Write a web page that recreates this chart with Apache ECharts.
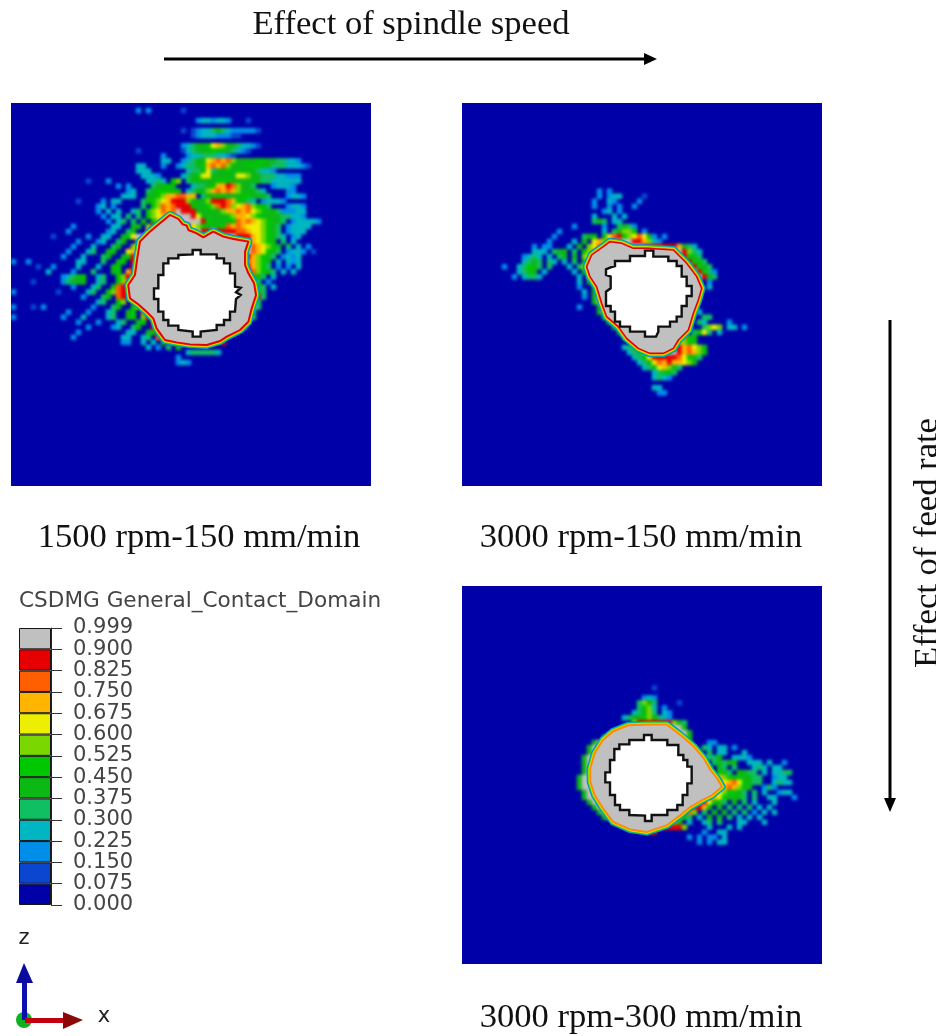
<!DOCTYPE html>
<html>
<head>
<meta charset="utf-8">
<script src="https://cdn.jsdelivr.net/npm/echarts@6/dist/echarts.min.js"></script>
<style>
html,body{margin:0;padding:0;background:#fff;width:936px;height:1036px;overflow:hidden}
#clip,#fields,#contact,#notes{position:absolute;left:0;top:0;width:936px;height:1036px}
#clip{clip-path:path('M11 103h360v383h-360z M462 103h360v383h-360z M462 586h360v378h-360z')}
#fields{filter:blur(1.6px)}
#contact{filter:blur(0.6px)}
</style>
</head>
<body>
<div id="clip"><div id="fields"></div></div>
<div id="contact"></div>
<div id="notes"></div>
<script>
// Contour levels, one per legend band, written as one character per cell ('.'=0 ... 'c'=12).
const legendTicks = ['0.000','0.075','0.150','0.225','0.300','0.375','0.450','0.525','0.600','0.675','0.750','0.825','0.900','0.999'];
const legendBands = [1,1,1,1,1,1,1,1,1,1,1,1,1];
const bandColors = ['#0000a8','#0a46cf','#008ee8','#00b6c2','#10bf62','#0cb814','#00c800','#7ad800','#eeee00','#ffb400','#ff5f00','#e60000','#c0c0c0'];
const panelLabels = ['1500 rpm-150 mm/min','3000 rpm-150 mm/min','3000 rpm-300 mm/min'];

const panel1FirstRow = 0;
const panel1Rows = [
"",
".........................2.2......1",
"",
".....................................2332332...1",
"",
"..................................1.12334543222221",
"....................................1233322211",
"",
"..................................2345568975543321",
".........................1........13455566554321",
"..............................2....2334443321",
"..............................33..2345589a9a75555665544332",
".........................33...2..2344569a9a75556665544433321",
".........................333.......344584556565554332",
"..........................3332....345688555558875544433222",
"...............1...2.......3343.67.45555566655555544333333",
".....................2.2....45565...3445699ba7554...23332",
".......................23..4566655.345579a9a9755543....22",
"......................333..556799aa99.45565555665554...2332",
".............1....2.33....456789bbb75557bbba96543.23332",
".................23.2.....4.67a9abbb65567aba789a7654...2332",
".................2.3.3..34.678a9acbbb55555799a9a87655422233",
"..................2.33.4.4.6789abcccb8555556799876555544332",
"...................2.34.4.5.678accccccb655556a9a9876554.233332",
"............2.......33..55.7bccccccb8765556a9a98887654.23333",
"...........2.......23..45..9ccc8ccccccbbcbbbbaa9887654.2333",
"........1......2..33..568ccc8ccccccccccccccccbbb9876543.23",
".............2...23..45..7cc8cccccccccccccccccca98765.4.3",
"............2...3...45..78c8cccccccccccccccccccca98765.4.3.2",
"...........2...34..56..89ccccccccccccccccccccccca98654.2332.1",
"..........2...3...45..56bcccccccccccccccccccccab97654.2323",
"2..2.........33...4..56.bcccccccccccccccccccccba9765.3.323",
".....1..2....3...3..56..bccccccccccccccccccccccb9764.2.2.3",
".......3....2...4...56.9bccccccccccccccccccccccba7654.3.3",
"..........23456..34..67bcccccccccccccccccccccccc654.3",
"....1.....24555..34..67acccccccccccccccccccccccc54.2",
"............2...34..6abbccccccccccccccccccccccccc54.3",
"2........1.....34..67abbccccccccccccccccccccccc8c54.",
"..............2...45.abbcccccccccccccccccccccccc8b4.",
".................34..67.bcccccccccccccccccccccccc4.",
"2...1.2.........2...45..67bcccccccccccccccccccccc4",
"...........2...2...34..56.abcccccccccccccccccccc4",
"2.........2...3....34..56.7bcccccccccccccccccccc4",
".............2...2...34..56.bcccccccccccccccccc",
"...............2....23..45..bcccccccccccccccccc",
".............2.........33..56bccccccccccccccc",
"............2.........33..34.abccccccccccc",
"......................22..3.3.5.7.cccccbbbb",
"...........................3.2.4.6",
"...................................3444443",
".................................2",
".................................232"
];

const panel2FirstRow = 17;
const panel2Rows = [
"...........................2.2",
"...........................2.233....1",
"..........................2..32....2",
"..........................2..2.2..2",
"............................23.2",
"..........................3...3.3",
"..........................454.33",
"......................2.....2..4542",
"...................2........3.45776.2",
"..................2.....456.58ab678a852.2",
".................2....3.5.897abcccbb9732",
"..............2.22...3.5.78abcccccccbbbbbbb9543",
"..............333.455.4.67abccccccccccccccccb743",
"............2343.3.45.5.78abb7bcccccccccccccb654",
"............3454.43.3.4.589abbbccccccccccccccb654",
"........2..34654.4...3.4789abbccccccccccccccccb654",
"...........3465.3.....3.6a89bbcccccccccccccccccb642",
"..........2.3443.......3.8abccccccccccccccccccccb54",
".......................3.5ccccccccccccccccccccc5.2",
".......................2..5cccccccccccccccccccc4.3",
"........................3.5cccccccccccccccccccc4",
"........................2.5ccccccccccccccccccc4",
"..........................5ccccccccccccccccccc4",
".......................2...5cccccccccccccccccc4",
"...........................5ccccccccccccccccc4.3",
"............................5cccccccccccccccc4..44",
".............................5ccccccccccccccc4.43....2",
"..............................5cccccccccccccc4..4787.33.2",
"...............................5cccccccccccc4.4684.3",
"................................5ccccccccccca65",
"..................................5cccccccb9765",
"................................34589abbccbb9a875",
".................................34679abbccb9a976",
"..................................3458bbbbba8654",
"...................................3458a9b99875",
"....................................34589754",
"......................................34654",
"......................................3432",
"",
"......................................33",
".......................................22"
];

const panel3FirstRow = 20;
const panel3Rows = [
"......................................1",
"",
"....................................232",
"...................................4754....1",
"...................................4673.2",
"..................................34574.32",
"................................3455675432",
"..................................7bbbbbbb754",
"................................5ccccccccccc5",
"...............................5ccccccccccccc5",
"............................5cccccccccccccccc5",
"..........................5cccccccccccccccccc5...22",
".........................5cccccccccccccccccccc5.43.33.2",
".........................5ccccccccccccccccccccc5.4.33...3",
"........................5cccccccccccccccccccccc54445..3332",
"........................5ccccccccccccccccccccccc5.45455..333.3..2",
"........................5cccccccccccccccccccccccc5.54.4...343.33",
"........................5cccccccccccccccccccccccc5.654.5544.3.3344",
".......................5cccccccccccccccccccccccccca976565544..233",
".......................5cccccccccccccccccccccccccccb89a86544..3433",
".......................5cccccccccccccccccccccccccccb9a9755..242",
"........................5cccccccccccccccccccccccccb876654.4.3..233",
"........................5ccccccccccccccccccccccccb9865554.4..33...2",
".........................5cccccccccccccccccccbbbb8654.5.4.3...3",
"..........................5cccccccccccccccccbbbb95.5.4.4.4.3.3",
"...........................5cccccccccccccccbba7.4.5.5.4.4.2.3.3",
"............................5cccccccccccccb964.3.5.5.4.3.3.3",
"..............................5ccccccccccb75.3..34.4...33...3",
".................................ccbbbbcbbbb7....3...3.3",
".....................................bb.........2..33",
".............................................2.2.22.3",
"...............................................2.2.33"
];

// Outlines of the contact region and of the hole in each panel, in each panel's own outline units.
const contact1 = [[510,360],[535,372],[548,388],[560,392],[565,405],[590,415],[610,427],[640,410],[670,425],[700,432],[745,440],[735,470],[735,510],[745,535],[762,565],[768,600],[755,640],[745,680],[720,705],[680,725],[660,738],[620,750],[570,748],[530,742],[495,735],[470,700],[460,670],[440,650],[415,628],[390,610],[385,570],[405,540],[412,490],[420,440],[450,410],[480,385]];
const contact2 = [[360,185],[395,190],[430,205],[470,205],[550,210],[590,250],[620,290],[635,325],[625,360],[610,400],[595,450],[565,480],[550,505],[520,520],[480,520],[445,505],[410,475],[385,440],[350,410],[335,370],[320,320],[300,290],[290,260],[305,225],[340,200]];
const contact3 = [[230,150],[290,150],[330,180],[370,215],[400,250],[420,285],[440,310],[455,335],[425,360],[395,375],[360,395],[330,420],[290,450],[230,470],[180,462],[130,440],[100,400],[75,360],[62,320],[62,280],[75,235],[100,195],[130,170],[175,152]];
const hole1 = [[578,465],[602,465],[602,478],[650,478],[650,490],[672,490],[672,505],[690,505],[690,535],[705,535],[705,575],[722,578],[708,592],[722,600],[708,612],[705,650],[690,650],[690,675],[672,675],[672,690],[650,690],[650,705],[602,710],[602,725],[578,725],[578,710],[535,705],[535,692],[505,692],[505,675],[490,675],[490,650],[475,650],[475,612],[462,612],[462,580],[475,580],[475,540],[490,540],[490,505],[505,505],[505,490],[535,490],[535,480],[578,478]];
const hole2 = [[465,212],[490,212],[490,230],[535,230],[535,243],[560,243],[560,258],[575,258],[575,290],[590,290],[590,318],[605,318],[605,348],[590,348],[590,378],[575,378],[575,410],[560,410],[560,425],[540,425],[540,440],[505,440],[505,455],[498,470],[465,470],[465,455],[420,455],[420,440],[390,440],[390,425],[375,425],[375,395],[362,395],[362,378],[348,378],[348,335],[362,325],[362,290],[348,285],[348,268],[362,262],[375,258],[375,243],[420,243],[420,228],[465,228]];
const hole3 = [[222,180],[245,180],[245,195],[292,195],[292,210],[325,210],[325,240],[340,240],[340,255],[352,255],[352,275],[365,275],[365,325],[352,325],[352,360],[338,360],[338,390],[322,390],[322,405],[292,405],[292,420],[245,420],[245,438],[225,438],[225,422],[178,420],[178,405],[150,405],[150,390],[135,390],[135,360],[120,360],[120,322],[106,322],[106,292],[120,292],[120,255],[133,255],[133,222],[148,222],[148,208],[178,208],[178,195],[222,195]];

const COLS = 72, ROWS = 76;
const colNames = Array.from({length:COLS},(_,i)=>i);
const rowNames = Array.from({length:ROWS},(_,i)=>i);

function cells(rows, first){
  const out=[];
  rows.forEach((s,r)=>{ for(let c=0;c<s.length;c++){ if(s[c]!=='.') out.push([c,r+first,parseInt(s[c],16)]); } });
  return out;
}
const panels=[
 {rows:panel1Rows,first:panel1FirstRow,hole:hole1,contact:contact1,edge:['#e60000',1.9],box:[11,103,360,383],ux:[33,1113],uy:[24,1173]},
 {rows:panel2Rows,first:panel2FirstRow,hole:hole2,contact:contact2,edge:['#e60000',1.5],box:[462,103,360,383],ux:[-84,996],uy:[-231,918]},
 {rows:panel3Rows,first:panel3FirstRow,hole:hole3,contact:contact3,edge:['#ff8a00',1.2],box:[462,586,360,378],ux:[-324,756],uy:[-267,867]}
];
const fieldOpt={animation:false,backgroundColor:bandColors[0],grid:[],xAxis:[],yAxis:[],series:[],
  visualMap:{type:'piecewise',show:false,dimension:2,seriesIndex:[0,1,2],
    pieces:bandColors.map((color,i)=>({value:i,color}))}};
const contactOpt={animation:false,grid:[],xAxis:[],yAxis:[],series:[]};
const ringColors=[[8,'#008ee8'],[6.4,'#10bf62'],[5,'#7ad800'],[3.8,'#eeee00'],[2.8,'#ff8a00']];
panels.forEach((p,i)=>{
  const g={left:p.box[0],top:p.box[1],width:p.box[2],height:p.box[3]};
  fieldOpt.grid.push(Object.assign({},g));
  fieldOpt.xAxis.push({type:'category',data:colNames,gridIndex:i,show:false});
  fieldOpt.yAxis.push({type:'category',data:rowNames,gridIndex:i,show:false,inverse:true});
  fieldOpt.series.push({type:'heatmap',xAxisIndex:i,yAxisIndex:i,data:cells(p.rows,p.first),itemStyle:{borderWidth:0},progressive:0});
  contactOpt.grid.push(Object.assign({},g));
  contactOpt.xAxis.push({type:'value',min:p.ux[0],max:p.ux[1],gridIndex:i,show:false});
  contactOpt.yAxis.push({type:'value',min:p.uy[0],max:p.uy[1],gridIndex:i,show:false,inverse:true});
  contactOpt.series.push({type:'custom',xAxisIndex:i,yAxisIndex:i,data:p.contact,encode:{x:0,y:1},clip:true,
    renderItem(params,api){
      if(params.dataIndex!==0) return null;
      const pts=p.contact.map(q=>api.coord(q));
      const kids=ringColors.map(([w,c])=>({type:'polygon',shape:{points:pts},style:{fill:'none',stroke:c,lineWidth:w,lineJoin:'round'}}));
      kids.push({type:'polygon',shape:{points:pts},style:{fill:bandColors[12],stroke:p.edge[0],lineWidth:p.edge[1],lineJoin:'round'}});
      return {type:'group',children:kids};
    }});
  contactOpt.series.push({type:'custom',xAxisIndex:i,yAxisIndex:i,data:p.hole,encode:{x:0,y:1},z:5,
    renderItem(params,api){
      if(params.dataIndex!==0) return null;
      return {type:'polygon',shape:{points:p.hole.map(q=>api.coord(q))},style:{fill:'#ffffff',stroke:'#111111',lineWidth:2.4}};
    }});
});
echarts.init(document.getElementById('fields'),null,{renderer:'canvas'}).setOption(fieldOpt);
echarts.init(document.getElementById('contact'),null,{renderer:'canvas'}).setOption(contactOpt);

const serif='"Liberation Serif","Times New Roman",serif';
function txt(text,x,y,extra){return Object.assign({type:'text',x,y,style:{text,font:'34.6px '+serif,fill:'#111',textAlign:'center',textVerticalAlign:'middle'}},extra||{});}
function arrow(points,color){return {type:'polygon',shape:{points},style:{fill:color}};}
const noteOpt={animation:false,
  title:{text:'CSDMG General_Contact_Domain',left:19,top:590,padding:0,textStyle:{fontFamily:'"DejaVu Sans"',fontSize:21.6,fontWeight:'normal',color:'#444'}},
  grid:{left:19,top:628,width:32,height:277,show:false},
  xAxis:{type:'category',data:['band'],show:false},
  yAxis:{type:'value',position:'right',min:0,max:13,interval:1,splitLine:{show:false},
    axisLine:{show:true,lineStyle:{color:'#222'}},
    axisTick:{show:true,length:11,lineStyle:{color:'#333'}},
    axisLabel:{margin:22,fontFamily:'"DejaVu Sans"',fontSize:21,color:'#444',formatter:(v)=>legendTicks[v]}},
  series:legendBands.map((v,i)=>({type:'bar',stack:'b',data:[v],barWidth:'100%',silent:true,
    itemStyle:{color:bandColors[i],borderColor:'#151515',borderWidth:1}})),
  graphic:[
    txt('Effect of spindle speed',411,25),
    {type:'line',shape:{x1:164,y1:59,x2:648,y2:59},style:{stroke:'#000',lineWidth:3}},
    arrow([[657,59],[644,53],[644,65]],'#000'),
    {type:'line',shape:{x1:890,y1:320,x2:890,y2:802},style:{stroke:'#000',lineWidth:3}},
    arrow([[890,812],[884,798],[896,798]],'#000'),
    txt('Effect of feed rate',928,543,{rotation:Math.PI/2}),
    txt(panelLabels[0],199,538),
    txt(panelLabels[1],641,538),
    txt(panelLabels[2],641,1018),
    {type:'circle',shape:{cx:24,cy:1020,r:8},style:{fill:'#10b020'}},
    {type:'rect',shape:{x:22,y:978,width:5,height:42},style:{fill:'#0a10b0'}},
    arrow([[24,963],[16,983],[33,983]],'#0a0aa0'),
    {type:'rect',shape:{x:25,y:1018,width:40,height:5},style:{fill:'#c00010'}},
    arrow([[83,1020],[63,1012],[63,1029]],'#8c0808'),
    {type:'text',x:24,y:939,style:{text:'z',font:'21px "DejaVu Sans"',fill:'#222',textAlign:'center',textVerticalAlign:'middle'}},
    {type:'text',x:104,y:1017,style:{text:'x',font:'21px "DejaVu Sans"',fill:'#222',textAlign:'center',textVerticalAlign:'middle'}}
  ]};
echarts.init(document.getElementById('notes'),null,{renderer:'canvas'}).setOption(noteOpt);
</script>
</body>
</html>
